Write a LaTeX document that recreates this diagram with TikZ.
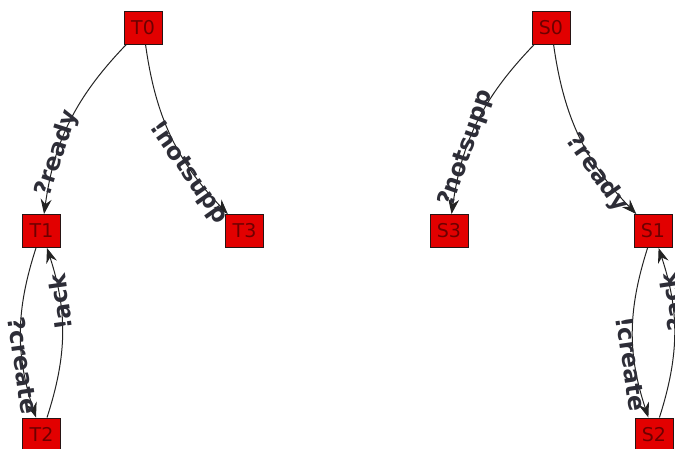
\documentclass[tikz,border=0pt]{standalone}
\usepackage{fontspec}
\setmainfont{DejaVu Sans}
\usetikzlibrary{arrows.meta}
\definecolor{statefill}{RGB}{226,0,0}
\definecolor{statetext}{RGB}{110,0,0}
\definecolor{statedraw}{RGB}{40,20,20}
\definecolor{edgeline}{RGB}{35,35,35}
\definecolor{labeltext}{RGB}{45,45,55}
\begin{document}
\begin{tikzpicture}[x=1pt,y=1pt,
  state/.style={draw=statedraw, line width=0.9pt, fill=statefill, text=statetext,
    minimum width=38pt, minimum height=33pt, inner sep=0pt,
    font=\fontsize{19}{19}\selectfont},
  trans/.style={draw=edgeline, line width=1pt,
    -{Stealth[length=15pt,width=11pt,inset=5pt]}, bend right=18},
  lbl/.style={sloped, pos=0.69, inner sep=0pt, text=labeltext,
    font=\bfseries\fontsize{23.5}{23.5}\selectfont},
  lowlbl/.style={lbl, yshift=-4pt}
]
\useasboundingbox (0,0) rectangle (675,449);

% first machine
\node[state] (T0) at (143,421.5) {T0};
\node[state] (T1) at (41.5,218) {T1};
\node[state] (T3) at (244.5,218) {T3};
\node[state] (T2) at (41.5,14.5) {T2};

% second machine
\node[state] (S0) at (551,421.5) {S0};
\node[state] (S3) at (449,218) {S3};
\node[state] (S1) at (653,218) {S1};
\node[state] (S2) at (654,14.5) {S2};

% transitions of the first machine
\draw[trans] (T0) to node[lbl] {?ready} (T1);
\draw[trans] (T0) to node[lowlbl, pos=0.72] {!notsupp} (T3);
\draw[trans] (T1) to node[lbl, xshift=2pt] {?create} (T2);
\draw[trans] (T2) to node[lbl, allow upside down] {!ack} (T1);

% transitions of the second machine
\draw[trans] (S0) to node[lbl, pos=0.66] {?notsupp} (S3);
\draw[trans] (S0) to node[lowlbl, pos=0.72] {?ready} (S1);
\draw[trans] (S1) to node[lowlbl] {!create} (S2);
\draw[trans] (S2) to node[lbl, allow upside down] {?ack} (S1);
\end{tikzpicture}
\end{document}
